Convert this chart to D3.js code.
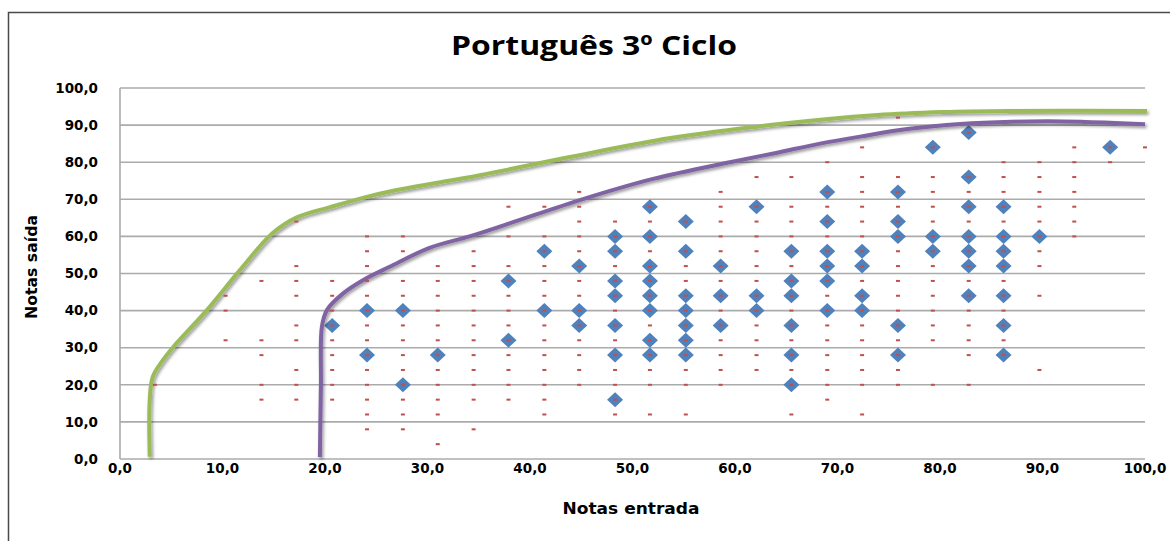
<!DOCTYPE html>
<html>
<head>
<meta charset="utf-8">
<script src="https://cdn.jsdelivr.net/npm/d3@7"></script>
<style>
  html, body { margin: 0; padding: 0; background: #fff; }
  svg { display: block; }
</style>
</head>
<body>
<svg id="chart" width="1170" height="541"></svg>
<script>
// ---------------- DATA ----------------
const title = "Português 3º Ciclo";
const xTitle = "Notas entrada";
const yTitle = "Notas saída";
const xTicks = [0, 10, 20, 30, 40, 50, 60, 70, 80, 90, 100];
const yTicks = [0, 10, 20, 30, 40, 50, 60, 70, 80, 90, 100];

// All students (small red marks): [nota entrada, [notas saída]]
const todosAlunos = [
  [3.4,  [20]],
  [10.3, [44, 40, 32]],
  [13.8, [48, 32, 28, 20, 16]],
  [17.2, [64, 52, 48, 44, 36, 32, 24, 20, 16]],
  [20.7, [48, 44, 40, 36, 32, 28, 24, 20, 16]],
  [24.1, [60, 56, 52, 48, 44, 40, 36, 32, 28, 24, 20, 16, 12, 8]],
  [27.6, [60, 56, 48, 44, 40, 36, 32, 28, 24, 20, 16, 12, 8]],
  [31.0, [52, 48, 44, 40, 36, 32, 28, 24, 20, 16, 12, 4]],
  [34.5, [56, 52, 48, 44, 40, 36, 32, 28, 24, 20, 16, 8]],
  [37.9, [68, 60, 52, 48, 44, 40, 36, 32, 28, 24, 20, 16]],
  [41.4, [68, 60, 56, 52, 48, 44, 40, 36, 32, 28, 24, 20, 16, 12]],
  [44.8, [72, 68, 64, 60, 56, 52, 48, 44, 40, 36, 32, 28, 24, 20]],
  [48.3, [64, 60, 56, 52, 48, 44, 40, 36, 32, 28, 24, 20, 16, 12]],
  [51.7, [68, 64, 60, 56, 52, 48, 44, 40, 36, 32, 28, 24, 20, 12]],
  [55.2, [64, 56, 52, 48, 44, 40, 36, 32, 28, 24, 20, 12]],
  [58.6, [72, 68, 64, 60, 56, 52, 48, 44, 40, 36, 32, 28, 24, 20]],
  [62.1, [76, 68, 64, 60, 56, 52, 48, 44, 40, 36, 32, 28, 24]],
  [65.5, [76, 68, 64, 60, 56, 52, 48, 44, 40, 36, 32, 28, 24, 20, 12]],
  [69.0, [80, 72, 68, 64, 60, 56, 52, 48, 44, 40, 36, 32, 28, 24, 20, 16]],
  [72.4, [84, 76, 72, 68, 64, 60, 56, 52, 48, 44, 40, 36, 32, 28, 24, 20, 12]],
  [75.9, [92, 76, 72, 68, 64, 60, 56, 52, 48, 44, 40, 36, 32, 28, 24, 20]],
  [79.3, [84, 76, 72, 68, 64, 60, 56, 52, 48, 44, 40, 36, 32, 20]],
  [82.8, [88, 76, 72, 68, 64, 60, 56, 52, 48, 44, 40, 36, 32, 28, 20]],
  [86.2, [80, 76, 72, 68, 64, 60, 56, 52, 48, 44, 40, 36, 32, 28]],
  [89.7, [80, 76, 72, 68, 64, 60, 56, 52, 44, 24]],
  [93.1, [84, 80, 76, 72, 68, 64, 60]],
  [96.6, [84, 80]],
  [100.0, [84]]
];

// Highlighted students (blue diamonds): [nota entrada, [notas saída]]
const alunosTurma = [
  [20.7, [36]],
  [24.1, [40, 28]],
  [27.6, [40, 20]],
  [31.0, [28]],
  [37.9, [48, 32]],
  [41.4, [56, 40]],
  [44.8, [52, 40, 36]],
  [48.3, [60, 56, 48, 44, 36, 28, 16]],
  [51.7, [68, 60, 52, 48, 44, 40, 32, 28]],
  [55.2, [64, 56, 44, 40, 36, 32, 28]],
  [58.6, [52, 44, 36]],
  [62.1, [68, 44, 40]],
  [65.5, [56, 48, 44, 36, 28, 20]],
  [69.0, [72, 64, 56, 52, 48, 40]],
  [72.4, [56, 52, 44, 40]],
  [75.9, [72, 64, 60, 36, 28]],
  [79.3, [84, 60, 56]],
  [82.8, [88, 76, 68, 60, 56, 52, 44]],
  [86.2, [68, 60, 56, 52, 44, 36, 28]],
  [89.7, [60]],
  [96.6, [84]]
];

// Upper limit curve (green)
const limiteSuperior = [
  [2.9, 0.6], [2.9, 15.9], [3.2, 22.2], [4.2, 26.7], [5.2, 30.2], [8.5, 40.2],
  [11.7, 50.9], [14.9, 60.9], [17.3, 65.2], [20.5, 67.9], [23.7, 70.4], [27.0, 72.5],
  [35.1, 76.5], [43.9, 81.4], [53.7, 86.5], [63.4, 90.0], [73.9, 92.7], [80.3, 93.5],
  [86.8, 93.8], [100.2, 93.8]
];

// Lower trend curve (purple)
const tendencia = [
  [19.5, 0.5], [19.6, 20.0], [19.7, 35.7], [20.2, 40.2], [21.8, 44.7], [23.7, 48.2],
  [26.3, 51.8], [30.2, 56.9], [34.1, 60.0], [38.0, 63.5], [45.1, 70.0], [52.0, 75.5],
  [59.5, 80.0], [64.0, 82.5], [68.3, 85.0], [72.2, 86.9], [77.0, 89.0], [82.0, 90.3],
  [87.0, 90.9], [92.0, 91.0], [96.0, 90.7], [100.0, 90.2]
];

// ---------------- DRAW ----------------
const svg = d3.select("#chart");
const W = 1170, H = 541;

svg.append("rect").attr("width", W).attr("height", H).attr("fill", "#fff");

const defs = svg.append("defs");
const f = defs.append("filter").attr("id", "shadow")
  .attr("x", "-5%").attr("y", "-5%").attr("width", "110%").attr("height", "115%");
f.append("feDropShadow").attr("dx", 1.5).attr("dy", 2).attr("stdDeviation", 1.5)
  .attr("flood-color", "#000").attr("flood-opacity", 0.4);

// outer chart border (left & top visible)
svg.append("path")
  .attr("d", `M8.5,${H} V12.5 H${W}`)
  .attr("fill", "none").attr("stroke", "#4a4a4a").attr("stroke-width", 1.5);

const x = d3.scaleLinear().domain([0, 100]).range([120, 1145]);
const y = d3.scaleLinear().domain([0, 100]).range([459, 88]);
const fmt = v => d3.format(".1f")(v).replace(".", ",");

// gridlines
svg.append("g").selectAll("line").data(yTicks).join("line")
  .attr("x1", x(0)).attr("x2", x(100))
  .attr("y1", d => y(d)).attr("y2", d => y(d))
  .attr("stroke", "#ababab").attr("stroke-width", 1.6);

// y axis line
svg.append("line").attr("x1", x(0)).attr("x2", x(0)).attr("y1", y(0)).attr("y2", y(100))
  .attr("stroke", "#ababab").attr("stroke-width", 1.6);

// y tick labels
svg.append("g").selectAll("text").data(yTicks).join("text")
  .attr("x", 98).attr("y", d => y(d)).attr("dy", "0.35em")
  .attr("text-anchor", "end")
  .style("font-family", "'DejaVu Sans', Verdana, sans-serif")
  .style("font-weight", "bold").style("font-size", "13.5px").attr("fill", "#000")
  .text(fmt);

// x tick labels
svg.append("g").selectAll("text").data(xTicks).join("text")
  .attr("x", d => x(d)).attr("y", 468).attr("dy", "0.35em")
  .attr("text-anchor", "middle")
  .style("font-family", "'DejaVu Sans', Verdana, sans-serif")
  .style("font-weight", "bold").style("font-size", "13.5px").attr("fill", "#000")
  .text(fmt);

// title
svg.append("text").attr("x", 594).attr("y", 55).attr("text-anchor", "middle")
  .style("font-family", "'Open Sans', sans-serif").style("font-weight", "bold")
  .style("font-size", "27px").attr("fill", "#000")
  .attr("textLength", 286).attr("lengthAdjust", "spacingAndGlyphs")
  .text(title);

// axis titles
svg.append("text").attr("x", 631).attr("y", 514).attr("text-anchor", "middle")
  .style("font-family", "'DejaVu Sans', sans-serif").style("font-weight", "bold")
  .style("font-size", "15px").attr("fill", "#000")
  .attr("textLength", 137).attr("lengthAdjust", "spacingAndGlyphs")
  .text(xTitle);
svg.append("text").attr("transform", "translate(37,267) rotate(-90)")
  .attr("text-anchor", "middle")
  .style("font-family", "'DejaVu Sans', sans-serif").style("font-weight", "bold")
  .style("font-size", "15px").attr("fill", "#000")
  .attr("textLength", 104).attr("lengthAdjust", "spacingAndGlyphs")
  .text(yTitle);

// flatten helper
const flat = arr => arr.flatMap(([xe, ys]) => ys.map(ys1 => ({ xe, ys: ys1 })));

// blue diamonds
svg.append("g").selectAll("path").data(flat(alunosTurma)).join("path")
  .attr("transform", d => `translate(${x(d.xe)},${y(d.ys)})`)
  .attr("d", "M0,-7.5 L8,0 L0,7.5 L-8,0 Z")
  .attr("fill", "#4f81bd");

// lines
const line = d3.line().x(d => x(d[0])).y(d => y(d[1])).curve(d3.curveCatmullRom.alpha(0.5));
svg.append("path").datum(limiteSuperior).attr("d", line)
  .attr("fill", "none").attr("stroke", "#9bbb59").attr("stroke-width", 4)
  .attr("stroke-linecap", "butt").attr("filter", "url(#shadow)");
svg.append("path").datum(tendencia).attr("d", line)
  .attr("fill", "none").attr("stroke", "#8064a2").attr("stroke-width", 4)
  .attr("stroke-linecap", "butt").attr("filter", "url(#shadow)");

// red small marks (all students) on top
svg.append("g").selectAll("rect").data(flat(todosAlunos)).join("rect")
  .attr("x", d => x(d.xe) - 2).attr("y", d => y(d.ys) - 1)
  .attr("width", 4).attr("height", 2)
  .attr("fill", "#c0504d");
</script>
</body>
</html>
